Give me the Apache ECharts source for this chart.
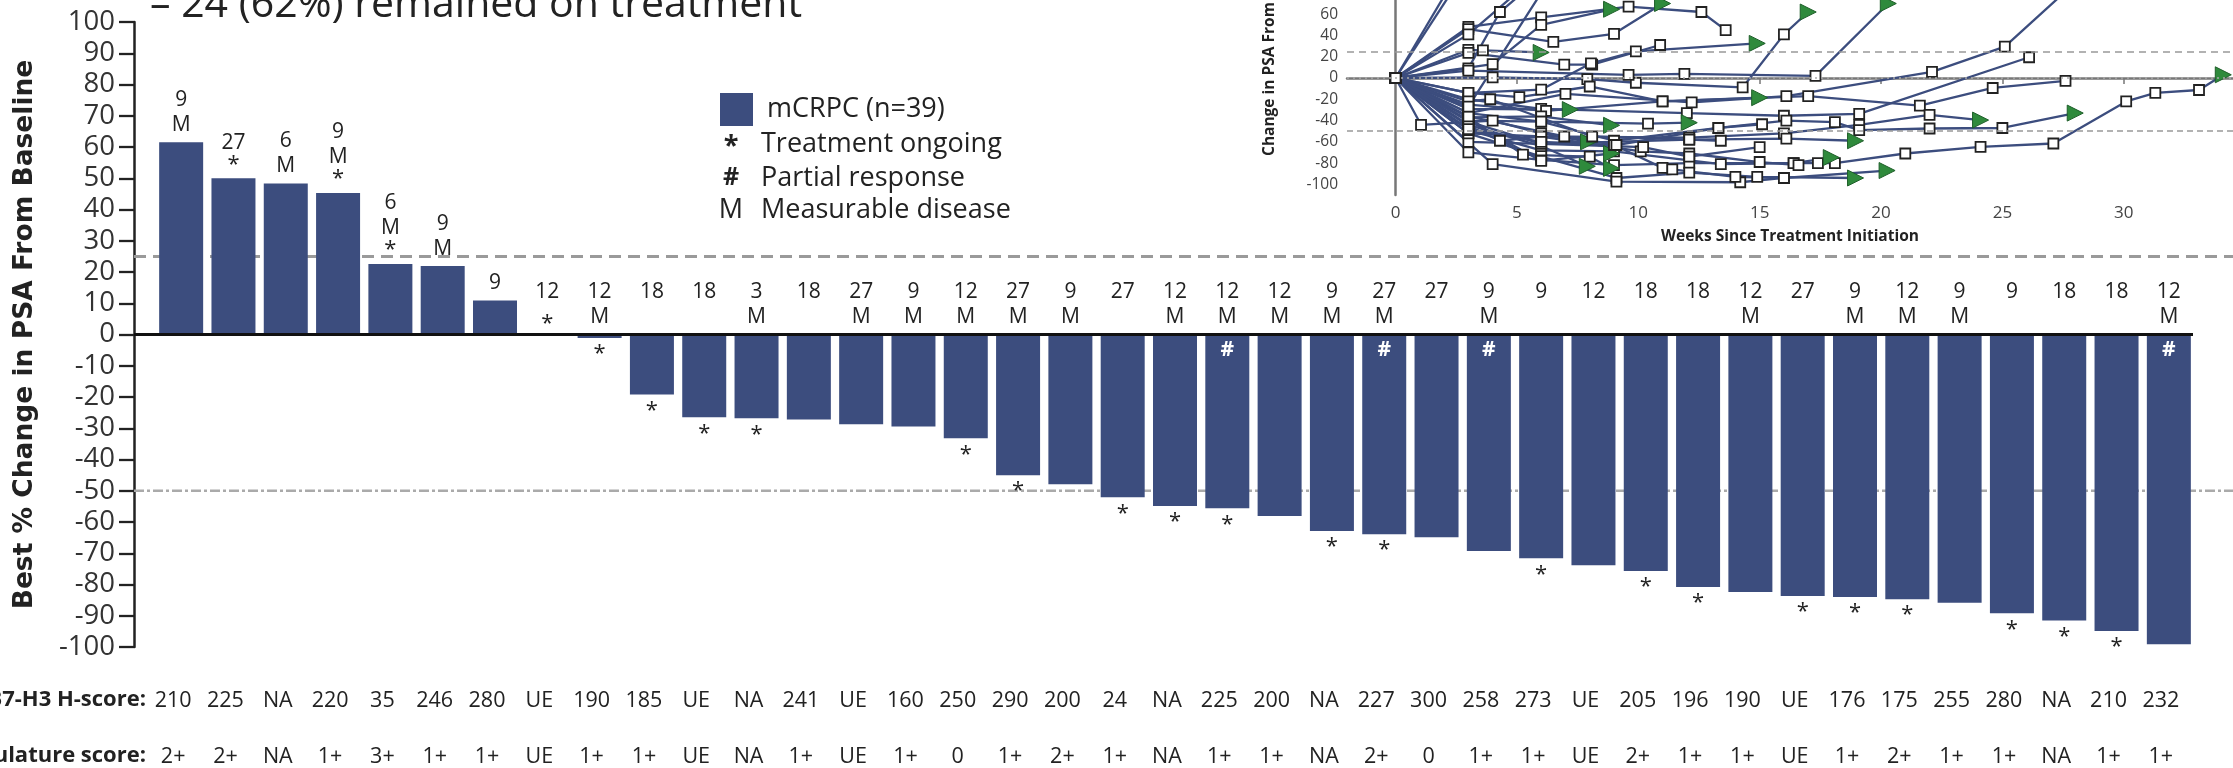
<!DOCTYPE html>
<html>
<head>
<meta charset="UTF-8">
<title>Best % change in PSA</title>
<style>
  html, body { margin: 0; padding: 0; background: #fff; }
  #main { width: 2233px; height: 768px; }
</style>
</head>
<body>
<div id="main"></div>
<script src="https://cdn.jsdelivr.net/npm/echarts@6/dist/echarts.min.js"></script>
<script type="text/javascript">
// waterfall data, one entry per patient
let patients = ['1','2','3','4','5','6','7','8','9','10','11','12','13','14','15','16','17','18','19','20',
    '21','22','23','24','25','26','27','28','29','30','31','32','33','34','35','36','37','38','39'];
let bestChange = [61.5, 50, 48.3, 45.3, 22.6, 21.9, 10.9, 0, -1.1, -19.2, -26.5, -26.8, -27.2, -28.7, -29.4,
    -33.2, -45, -47.9, -52.1, -54.9, -55.6, -58.1, -62.9, -63.9, -64.9, -69.3, -71.6, -73.8, -75.7, -80.8,
    -82.4, -83.7, -84, -84.7, -85.8, -89.2, -91.5, -94.9, -99.1];
let weeks = [9, 27, 6, 9, 6, 9, 9, 12, 12, 18, 18, 3, 18, 27, 9, 12, 27, 9, 27, 12, 12, 12, 9, 27, 27, 9, 9,
    12, 18, 18, 12, 27, 9, 12, 9, 9, 18, 18, 12];
let measurable = [1, 0, 1, 1, 1, 1, 0, 0, 1, 0, 0, 1, 0, 1, 1, 1, 1, 1, 0, 1, 1, 1, 1, 1, 0, 1, 0, 0, 0, 0,
    1, 0, 1, 1, 1, 0, 0, 0, 1];
let ongoing = [0, 1, 0, 1, 1, 0, 0, 1, 1, 1, 1, 1, 0, 0, 0, 1, 1, 0, 1, 1, 1, 0, 1, 1, 0, 0, 1, 0, 1, 1,
    0, 1, 1, 1, 0, 1, 1, 1, 0];
let partial = [0, 0, 0, 0, 0, 0, 0, 0, 0, 0, 0, 0, 0, 0, 0, 0, 0, 0, 0, 0, 1, 0, 0, 1, 0, 1, 0, 0, 0, 0,
    0, 0, 0, 0, 0, 0, 0, 0, 1];
let hScore = ['210', '225', 'NA', '220', '35', '246', '280', 'UE', '190', '185', 'UE', 'NA', '241', 'UE',
    '160', '250', '290', '200', '24', 'NA', '225', '200', 'NA', '227', '300', '258', '273', 'UE', '205',
    '196', '190', 'UE', '176', '175', '255', '280', 'NA', '210', '232'];
let vascScore = ['2+', '2+', 'NA', '1+', '3+', '1+', '1+', 'UE', '1+', '1+', 'UE', 'NA', '1+', 'UE', '1+',
    '0', '1+', '2+', '1+', 'NA', '1+', '1+', 'NA', '2+', '0', '1+', '1+', 'UE', '2+', '1+', '1+', 'UE',
    '1+', '2+', '1+', '1+', 'NA', '1+', '1+'];
let yTicks = [-100, 100, 10];

// spider plot: [weeks, % change] per patient
let tracks = [
    [[0, 0], [3, 48], [6, 57], [9.6, 67], [12.6, 62], [13.6, 45]],
    [[0, 0], [3, 46], [6.5, 34], [9, 41.5], [11, 70]],
    [[0, 0], [3, 9], [4.3, 62], [6, 95]],
    [[0, 0], [3, 26.5], [3.6, 26], [6, 24]],
    [[0, 0], [3, 23.6], [6.95, 12.6], [8.1, 12.6], [10.9, 31]],
    [[0, 0], [4, 13], [6, 50], [8.9, 64.6]],
    [[0, 0], [3, -14], [6, -11], [8.05, 13.8], [9.9, 25], [14.9, 32.5]],
    [[0, 0], [4, 0.5], [7.9, -1], [9.9, -4.5], [14.3, -8.9], [16, 41], [17, 62]],
    [[0, 0], [3, 7], [9.6, 3], [11.9, 3.8], [17.3, 2], [20.3, 70]],
    [[0, 0], [3, -33], [7, -15], [12.2, -23], [16.1, -17], [22.1, 5.7], [25.1, 29.5], [28.5, 100]],
    [[0, 0], [3, -20], [6, -29], [12, -33], [16, -35.5], [19.1, -33.7], [26.1, 19.5]],
    [[0, 0], [3, -25], [6.2, -31], [11, -22], [17, -17], [21.6, -26], [24.6, -9.4], [27.6, -2.8]],
    [[0, 0], [3, -37], [6, -36], [8.9, -44.5]],
    [[0, 0], [3, -40], [6, -41], [10.4, -43], [12.1, -42]],
    [[0, 0], [3, -29], [7.2, -29.7]],
    [[0, 0], [3, -14], [5.1, -18], [8, -8], [11, -22], [15, -18.5]],
    [[0, 0], [3, -52], [6, -55], [12.1, -56], [16, -52], [19.1, -44], [22, -34.6], [24.1, -39.6]],
    [[0, 0], [3, -33], [6, -41], [9, -59], [13.3, -47], [16.1, -40], [18.1, -41.5], [19.1, -49], [22, -47.5], [25, -47], [28, -33]],
    [[0, 0], [3, -60], [6, -62], [12.1, -58], [16.1, -57], [18.95, -59]],
    [[0, 0], [3, -70], [6, -77], [9, -82], [12.1, -80], [16.4, -80], [17.4, -80], [18.1, -80], [21, -71], [24.1, -64.8], [27.1, -61.6], [30.1, -22], [31.3, -14], [33.1, -11.3], [34.1, 3]],
    [[0, 0], [3, -52], [6, -74], [9.1, -94], [12.1, -89], [14.9, -93], [18.95, -94]],
    [[0, 0], [4, -81], [9.1, -97.5], [14.2, -98], [16, -94], [20.25, -87]],
    [[0, 0], [3, -49], [6, -68], [9, -69], [13.4, -81], [16.4, -80], [17.95, -74.8]],
    [[0, 0], [1.05, -44], [4, -40], [6, -52], [7.95, -60]],
    [[0, 0], [3, -37], [5.25, -72], [8, -74], [8.9, -85]],
    [[0, 0], [3, -44], [6, -64], [7.9, -83]],
    [[0, 0], [3, -40], [6, -78], [8.9, -71]],
    [[0, 0], [3, -45], [4.3, -59], [6, -55], [10.1, -69], [12.1, -71], [15, -79], [16.6, -82]],
    [[0, 0], [3, -41], [6, -62], [10.2, -65], [12.1, -74], [15, -65]],
    [[0, 0], [3, -48], [6, -60], [9, -63], [11, -84.5], [11.4, -86], [14, -93], [16, -94]],
    [[0, 0], [3, -22], [3.9, -20], [8.1, -55], [12.1, -58], [13.4, -59]],
    [[0, 0], [3, -36], [6.95, -55], [9.1, -63], [13.3, -47], [15.1, -43.5]],
    [[0, 0], [3, 105]],
    [[0, 0], [2.6, 100]],
    [[0, 0], [3, -27], [6, 80]],
    [[0, 0], [3, 41], [5.5, 90]]
];
let trackOngoing = [0, 1, 0, 1, 0, 1, 1, 1, 1, 0, 0, 0, 1, 1, 1, 1, 1, 1, 1, 1, 1, 1, 1, 1, 1, 1, 1, 0, 0, 0,
    0, 0, 0, 0, 0, 0];
let weekTicks = [-2, 34.5, 5];
let insetTicks = [-110, 73.3, 20];

const FONT = "'Open Sans', 'Noto Sans', sans-serif";
const BLUE = '#3c4d7e';
const GREEN = '#2f8a3c';
const INK = '#222';

let myChart = echarts.init(document.getElementById('main'));

function barLabel(p) {
    let i = p.dataIndex;
    let lines = ['{n|' + weeks[i] + '}'];
    if (bestChange[i] > 0) {
        if (measurable[i]) lines.push('{n|M}');
        if (ongoing[i]) lines.push('{s|*}');
    } else {
        lines.push(measurable[i] ? '{n|M}' : '{n| }');
    }
    return lines.join('\n');
}

let starData = bestChange.map(function (v, i) {
    if (!ongoing[i] || v > 0) return { value: v, label: { show: false } };
    return { value: v, label: { show: true, position: v === 0 ? 'top' : 'bottom', distance: v === 0 ? 0 : 5 } };
});
let hashData = bestChange.map(function (v, i) {
    return { value: v, label: { show: !!partial[i] } };
});

let insetSeries = tracks.map(function (t, k) {
    return {
        type: 'line',
        xAxisIndex: 1,
        yAxisIndex: 1,
        silent: true,
        clip: true,
        symbol: 'rect',
        symbolSize: 10,
        showAllSymbol: true,
        itemStyle: { color: '#fff', borderColor: '#222', borderWidth: 1.8 },
        lineStyle: { color: BLUE, width: 2.3 },
        z: 3,
        data: t.map(function (p, j) {
            if (j === t.length - 1 && trackOngoing[k]) {
                return { value: p, symbol: 'triangle', symbolRotate: -90, symbolSize: 16,
                    itemStyle: { color: GREEN, borderColor: '#1f5f2a', borderWidth: 1 } };
            }
            return p;
        })
    };
});
insetSeries[0].markLine = {
    silent: true,
    symbol: 'none',
    label: { show: false },
    data: [
        { yAxis: 25, lineStyle: { type: [7, 5], color: '#999', width: 1.5 } },
        { yAxis: 0, lineStyle: { type: [2, 4], color: '#aaa', width: 1.5 } },
        { yAxis: -50, lineStyle: { type: [6, 4], color: '#999', width: 1.5 } }
    ]
};

let option = {
    animation: false,
    grid: [
        { left: 155, right: 38, top: 22, bottom: 121, outerBoundsMode: 'none' },
        { left: 1347, right: 0, top: 0, height: 195, outerBoundsMode: 'none' }
    ],
    legend: {
        data: ['mCRPC (n=39)'],
        left: 715,
        top: 88,
        icon: 'rect',
        itemWidth: 33,
        itemHeight: 33,
        selectedMode: false,
        textStyle: { fontSize: 27, fontFamily: FONT, color: INK, padding: [0, 0, 0, 9] }
    },
    xAxis: [
        {
            type: 'category',
            gridIndex: 0,
            data: patients,
            position: 'bottom',
            axisLine: { show: false },
            axisTick: { show: false },
            axisLabel: {
                interval: 0,
                margin: 26,
                padding: [0, 16, 0, 0],
                formatter: function (v, i) { return '{h|' + hScore[i] + '}\n{v|' + vascScore[i] + '}'; },
                rich: {
                    h: { fontSize: 21.5, lineHeight: 56, fontFamily: FONT, color: INK },
                    v: { fontSize: 21.5, lineHeight: 56, fontFamily: FONT, color: INK }
                }
            }
        },
        {
            type: 'value',
            gridIndex: 1,
            min: weekTicks[0],
            max: weekTicks[1],
            minInterval: weekTicks[2],
            maxInterval: weekTicks[2],
            splitNumber: 7,
            splitLine: { show: false },
            axisLine: { lineStyle: { color: '#777', width: 2.5 } },
            axisTick: { show: true, length: 6, lineStyle: { color: '#777', width: 1.5 } },
            axisLabel: { fontSize: 17, fontFamily: FONT, color: '#444', margin: 10, showMinLabel: false, showMaxLabel: false },
            name: 'Weeks Since Treatment Initiation',
            nameLocation: 'middle',
            nameGap: 34,
            nameTextStyle: { fontSize: 15.5, fontWeight: 'bold', fontFamily: FONT, color: INK }
        }
    ],
    yAxis: [
        {
            type: 'value',
            gridIndex: 0,
            min: yTicks[0],
            max: yTicks[1],
            interval: yTicks[2],
            offset: 21,
            splitLine: { show: false },
            axisLine: { show: true, lineStyle: { color: INK, width: 2.5 } },
            axisTick: { show: true, length: 15, lineStyle: { color: INK, width: 2.3 } },
            axisLabel: { fontSize: 27.5, fontFamily: FONT, color: '#333', margin: 19 },
            name: 'Best % Change in PSA From Baseline',
            nameLocation: 'middle',
            nameGap: 95,
            nameTextStyle: { fontSize: 26.5, fontWeight: 'bold', fontFamily: "'DejaVu Sans', sans-serif", color: INK }
        },
        {
            type: 'value',
            gridIndex: 1,
            min: insetTicks[0],
            max: insetTicks[1],
            minInterval: insetTicks[2],
            maxInterval: insetTicks[2],
            splitNumber: 9,
            splitLine: { show: false },
            axisLine: { show: true, lineStyle: { color: '#777', width: 2.5 } },
            axisTick: { show: false },
            axisLabel: { fontSize: 15.5, fontFamily: FONT, color: '#444', margin: 9, showMinLabel: false, showMaxLabel: false }
        }
    ],
    series: [
        {
            name: 'mCRPC (n=39)',
            type: 'bar',
            xAxisIndex: 0,
            yAxisIndex: 0,
            barWidth: 44,
            barGap: '-100%',
            data: bestChange,
            itemStyle: { color: BLUE },
            silent: true,
            label: {
                show: true,
                position: 'top',
                distance: 5,
                formatter: barLabel,
                rich: {
                    n: { fontSize: 21, lineHeight: 25, fontFamily: FONT, color: INK, align: 'center' },
                    s: { fontSize: 22, lineHeight: 18, fontFamily: FONT, color: INK, align: 'center' }
                }
            }
        },
        {
            name: 'ongoing',
            type: 'bar',
            xAxisIndex: 0,
            yAxisIndex: 0,
            barWidth: 44,
            barGap: '-100%',
            data: starData,
            itemStyle: { color: 'rgba(0,0,0,0)' },
            silent: true,
            label: { formatter: '*', fontSize: 22, fontFamily: FONT, color: INK }
        },
        {
            name: 'partial',
            type: 'bar',
            xAxisIndex: 0,
            yAxisIndex: 0,
            barWidth: 44,
            barGap: '-100%',
            data: hashData,
            itemStyle: { color: 'rgba(0,0,0,0)' },
            silent: true,
            label: { position: 'insideTop', distance: 5, formatter: '#', fontSize: 21, fontWeight: 'bold', fontFamily: FONT, color: '#fff' }
        }
    ].concat(insetSeries)
};

myChart.setOption(option);

// reference lines run past the plot area, so place them from the axis scale
let axisX = 155 - 21;
let y25 = myChart.convertToPixel({ yAxisIndex: 0 }, 25);
let y0 = myChart.convertToPixel({ yAxisIndex: 0 }, 0);
let yM50 = myChart.convertToPixel({ yAxisIndex: 0 }, -50);
let txt = function (x, y, text, size, weight, align) {
    return {
        type: 'text', x: x, y: y, z: 10, silent: true,
        style: { text: text, fontSize: size, fontWeight: weight || 'normal', fontFamily: FONT, fill: INK,
            align: align || 'left', verticalAlign: 'middle' }
    };
};
myChart.setOption({
    graphic: [
        { type: 'line', silent: true, z: 1, shape: { x1: axisX, y1: y25, x2: 2233, y2: y25 },
            style: { stroke: '#9a9a9a', lineWidth: 3, lineDash: [12, 7] } },
        { type: 'line', silent: true, z: 1, shape: { x1: axisX, y1: yM50, x2: 2233, y2: yM50 },
            style: { stroke: '#aaa', lineWidth: 2.5, lineDash: [10, 3, 3, 3] } },
        { type: 'line', silent: true, z: 5, shape: { x1: axisX, y1: y0, x2: 2193, y2: y0 },
            style: { stroke: '#111', lineWidth: 3 } },
        txt(150, 5, '\u2013 24 (62%) remained on treatment', 41),
        txt(731, 146, '*', 27, 'bold', 'center'),
        txt(731, 178, '#', 25, 'bold', 'center'),
        txt(731, 210, 'M', 27, 'normal', 'center'),
        txt(761, 144, 'Treatment ongoing', 27),
        txt(761, 178, 'Partial response', 27),
        txt(761, 210, 'Measurable disease', 27),
        txt(146, 700, 'B7-H3 H-score:', 22, 'bold', 'right'),
        txt(146, 756, 'Vasculature score:', 22, 'bold', 'right'),
        {
            type: 'text', x: 1270, y: 156, rotation: Math.PI / 2, silent: true,
            style: { text: 'Change in PSA From Baseline', fontSize: 15.5, fontWeight: 'bold', fontFamily: FONT,
                fill: INK, align: 'left', verticalAlign: 'middle' }
        }
    ]
});
</script>
</body>
</html>
